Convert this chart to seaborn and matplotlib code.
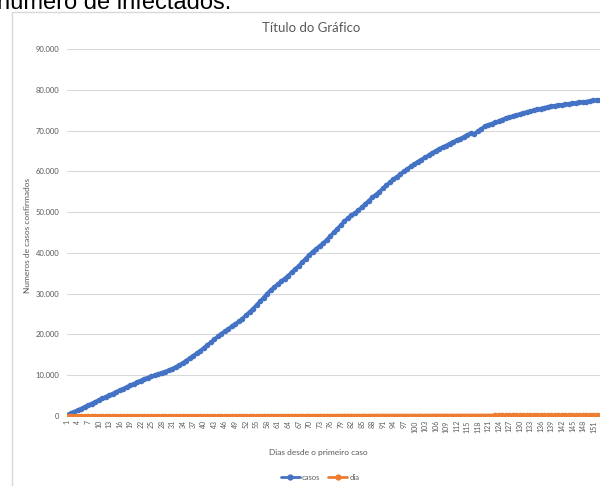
import seaborn as sns
import matplotlib.pyplot as plt
import matplotlib.ticker as mticker
from matplotlib.lines import Line2D
from matplotlib.patches import Rectangle
import pandas as pd

# =========================
# DATA
# =========================
dias = list(range(1, 155))  # dias desde o primeiro caso

casos = [
    300, 650, 1050, 1400, 1800, 2250, 2650, 3050, 3450, 3900,
    4300, 4700, 5100, 5500, 5900, 6300, 6700, 7100, 7500, 7900,
    8300, 8700, 9100, 9400, 9700, 10000, 10300, 10600, 10900, 11200,
    11600, 12000, 12500, 13000, 13600, 14200, 14800, 15400, 16000, 16700,
    17400, 18100, 18800, 19500, 20200, 20800, 21400, 22000, 22600, 23200,
    23900, 24700, 25500, 26300, 27200, 28100, 29000, 30000, 30800, 31600,
    32300, 33000, 33700, 34400, 35200, 36000, 36800, 37700, 38600, 39500,
    40300, 41000, 41700, 42400, 43200, 44100, 45000, 45900, 46800, 47700,
    48500, 49200, 49800, 50400, 51200, 52000, 52800, 53600, 54300, 55000,
    55800, 56600, 57300, 58000, 58700, 59300, 60000, 60600, 61200, 61800,
    62400, 62900, 63400, 63900, 64500, 65000, 65500, 65900, 66300, 66800,
    67200, 67600, 68000, 68400, 68900, 69300, 69100, 69800, 70400, 71000,
    71400, 71700, 72000, 72300, 72700, 73000, 73300, 73500, 73800, 74000,
    74300, 74500, 74700, 75000, 75200, 75400, 75600, 75800, 76000, 76100,
    76200, 76300, 76400, 76500, 76700, 76800, 76900, 77000, 77100, 77300,
    77400, 77400, 77500, 77500,
]

dia = dias  # second series: the day number itself

series_names = ["casos", "dia"]
series_colors = ["#4472C4", "#ED7D31"]

y_ticks = [0, 10000, 20000, 30000, 40000, 50000, 60000, 70000, 80000, 90000]
x_ticks = list(range(1, 153, 3))  # 1, 4, ..., 151

df = pd.DataFrame({
    "dia_n": dias * 2,
    "valor": casos + dia,
    "serie": ["casos"] * len(dias) + ["dia"] * len(dias),
})

# =========================
# STYLE
# =========================
sns.set_theme(style="white")
plt.rcParams["font.family"] = ["Lato", "DejaVu Sans"]
gray = "#595959"

fig = plt.figure(figsize=(6, 4.86), dpi=100)

# excel chart frame
fig.patches.append(Rectangle((12 / 600, -0.05), 1.2, (486 - 12) / 486 + 0.05,
                             transform=fig.transFigure, fill=False,
                             edgecolor="#d9d9d9", linewidth=1))

# caption of the document, cut off at the top
fig.text(-3 / 600, 1 - 9 / 486, "número de infectados.", fontsize=17,
         family="Liberation Sans", color="black", va="baseline", ha="left")

ax = fig.add_axes([67 / 600, 70 / 486, (604 - 67) / 600, (416 - 49) / 486])

sns.lineplot(
    data=df, x="dia_n", y="valor", hue="serie",
    hue_order=series_names, palette=series_colors,
    marker="o", markersize=4, markeredgewidth=0,
    linewidth=2.6, legend=False, ax=ax,
)

ax.set_xlim(1, 154)
ax.set_ylim(0, 90000)
ax.set_yticks(y_ticks)
ax.yaxis.set_major_formatter(
    mticker.FuncFormatter(lambda v, p: f"{int(v):,}".replace(",", ".")))
ax.set_xticks(x_ticks)
ax.set_xticklabels([str(d) for d in x_ticks], rotation=90)
ax.tick_params(axis="y", labelsize=5.5, colors=gray, length=0, pad=5.5)
ax.tick_params(axis="x", labelsize=5, colors=gray, length=0, pad=3)

ax.grid(axis="y", color="#d9d9d9", linewidth=0.8)
ax.set_axisbelow(True)
for s in ax.spines.values():
    s.set_visible(False)

ax.set_xlabel("Dias desde o primeiro caso", fontsize=6, color=gray)
ax.set_ylabel("Numeros de casos confirmados", fontsize=6, color=gray)
ax.xaxis.set_label_coords((318 - 67) / (604 - 67), -(449 - 416) / (416 - 49))
ax.yaxis.set_label_coords((31 - 67) / (604 - 67), (416 - 235) / (416 - 49))

fig.text(311 / 600, 1 - 28 / 486, "Título do Gráfico", fontsize=9.5,
         color=gray, ha="center", va="center")

handles = [Line2D([0], [0], color=c, lw=2, marker="o", markersize=3.5)
           for c in series_colors]
fig.legend(handles, series_names, loc="center", ncol=2, frameon=False,
           bbox_to_anchor=(320 / 600, 1 - 477 / 486), fontsize=5.5,
           labelcolor=gray, handlelength=2.5, columnspacing=1, handletextpad=0.3)

fig.savefig("out.png", dpi=100)
